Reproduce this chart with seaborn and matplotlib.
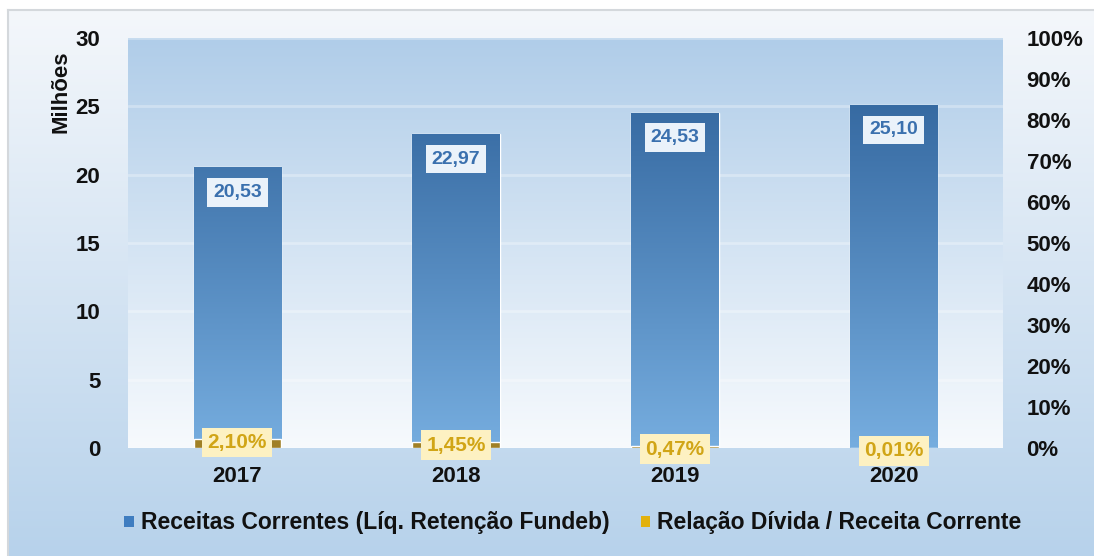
import numpy as np
import pandas as pd
import seaborn as sns
import matplotlib.pyplot as plt
from matplotlib.colors import LinearSegmentedColormap
from matplotlib.patches import Patch
from matplotlib.ticker import FuncFormatter

# Dados
anos = ['2017', '2018', '2019', '2020']
receitas = [20.53, 22.97, 24.53, 25.10]          # milhões
relacao_divida = [2.10, 1.45, 0.47, 0.01]        # %

df = pd.DataFrame({'ano': anos, 'receita': receitas, 'relacao': [v / 100 for v in relacao_divida]})

sns.set_theme(style='white')
plt.rcParams['font.family'] = ['Liberation Sans', 'DejaVu Sans']
plt.rcParams['font.weight'] = 'bold'

fig = plt.figure(figsize=(10.94, 5.56), dpi=100)
fig.patch.set_facecolor('white')

# fundo geral com degradê
bg = fig.add_axes([8 / 1094, 0, 1 - 8 / 1094, 1 - 10 / 556], zorder=-10)
grad_fig = LinearSegmentedColormap.from_list('fig', ['#b7d2eb', '#f4f7fb'])
bg.imshow(np.linspace(0, 1, 256).reshape(-1, 1), cmap=grad_fig, aspect='auto',
          origin='lower', extent=[0, 1, 0, 1])
bg.set_xticks([])
bg.set_yticks([])
for s in ['right', 'bottom']:
    bg.spines[s].set_visible(False)
for s in ['top', 'left']:
    bg.spines[s].set_color('#d4d8dc')
    bg.spines[s].set_linewidth(1.5)

pos = [128 / 1094, 1 - 448 / 556, 875 / 1094, 410 / 556]

# fundo da área de plotagem
pa = fig.add_axes(pos, zorder=-5)
grad_pa = LinearSegmentedColormap.from_list('pa', ['#f7fafd', '#b0cde9'])
pa.imshow(np.linspace(0, 1, 256).reshape(-1, 1), cmap=grad_pa, aspect='auto',
          origin='lower', extent=[0, 1, 0, 1])
pa.axis('off')

ax = fig.add_axes(pos)
ax.patch.set_alpha(0)
sns.barplot(data=df, x='ano', y='receita', color='#3f78b8', width=0.4, ax=ax, zorder=3)
ax.set_ylim(0, 30)
ax.set_xlim(-0.5, 3.5)
ax.set_yticks(range(0, 31, 5))
for y in range(5, 31, 5):
    ax.axhline(y, color='white', alpha=0.3, lw=2, zorder=1)

# degradê nas barras azuis
grad_bar = LinearSegmentedColormap.from_list('bar', ['#76addf', '#2a5d96'])
for bar in ax.patches:
    x0, y0 = bar.get_x(), bar.get_y()
    w, h = bar.get_width(), bar.get_height()
    im = ax.imshow(np.linspace(0, 1, 256).reshape(-1, 1), cmap=grad_bar, aspect='auto',
                   origin='lower', extent=[x0, x0 + w, 0, 30], zorder=3)
    im.set_clip_path(bar)
ax.set_ylim(0, 30)
ax.set_xlim(-0.5, 3.5)

for i, v in enumerate(receitas):
    ax.annotate(f'{v:.2f}'.replace('.', ','), (i, v), xytext=(0, -25),
                textcoords='offset pixels', ha='center', va='center',
                fontsize=14, fontweight='bold', color='#3a70ae', zorder=5,
                bbox=dict(boxstyle='square,pad=0.3', fc='#eaf2fa', ec='none'))

ax.set_xlabel('')
ax.set_ylabel('Milhões', fontsize=16, fontweight='bold', color='#111111')
ax.yaxis.set_label_coords(-0.064, 0.87)
ax.tick_params(axis='x', length=0, labelsize=16, labelcolor='#111111', pad=13)
ax.tick_params(axis='y', length=0, labelsize=16, labelcolor='#111111', pad=20)
for lbl in ax.get_xticklabels() + ax.get_yticklabels():
    lbl.set_fontweight('bold')
sns.despine(ax=ax, left=True, bottom=True)

# eixo secundário
ax2 = ax.twinx()
ax2.patch.set_alpha(0)
sns.barplot(data=df, x='ano', y='relacao', color='#b48a12', width=0.4, ax=ax2, zorder=3)
ax2.set_ylim(0, 1)
ax2.set_xlim(-0.5, 3.5)
ax2.set_yticks(np.arange(0, 1.01, 0.1))
ax2.yaxis.set_major_formatter(FuncFormatter(lambda v, p: f'{v * 100:.0f}%'))
ax2.tick_params(axis='y', length=0, labelsize=16, labelcolor='#111111', pad=17)
for lbl in ax2.get_yticklabels():
    lbl.set_fontweight('bold')
ax2.set_ylabel('')
ax2.grid(False)
sns.despine(ax=ax2, left=True, bottom=True, right=True)

for i, v in enumerate(relacao_divida):
    ax2.annotate(f'{v:.2f}%'.replace('.', ','), (i, v / 100), xytext=(0, -3),
                 textcoords='offset pixels', ha='center', va='center',
                 fontsize=15, fontweight='bold', color='#d1a516', zorder=5,
                 bbox=dict(boxstyle='square,pad=0.25', fc='#fdf1c2', ec='none'))

handles = [Patch(facecolor='#3f7dc0', edgecolor='none'),
           Patch(facecolor='#e2b10e', edgecolor='none')]
fig.legend(handles, ['Receitas Correntes (Líq. Retenção Fundeb)', 'Relação Dívida / Receita Corrente'],
           loc='center', bbox_to_anchor=(573 / 1094, 1 - 523 / 556), ncol=2, frameon=False,
           prop={'size': 16.5, 'weight': 'bold'}, handlelength=0.4, handleheight=0.4,
           handletextpad=0.3, columnspacing=1.4, labelcolor='#111111')

fig.savefig('out.png', dpi=100)
